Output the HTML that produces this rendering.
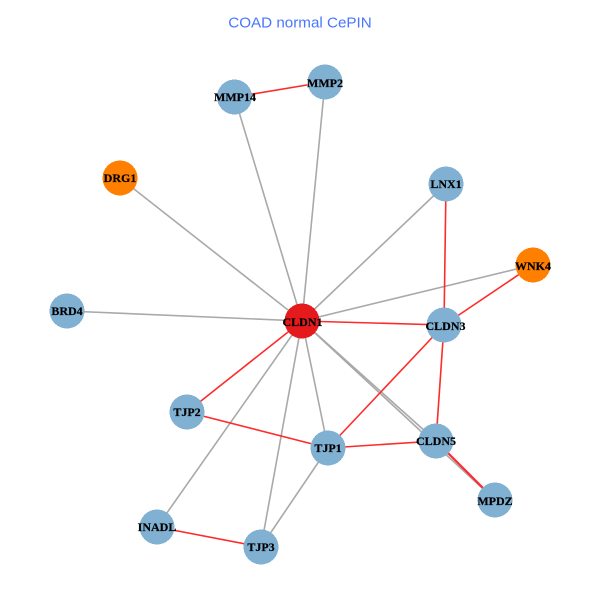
<!DOCTYPE html>
<html>
<head>
<meta charset="utf-8">
<style>
html,body{margin:0;padding:0;background:#fff}
svg{display:block}
.g line{stroke:#a9a9a9;stroke-width:1.6}
.r line{stroke:#ff2a2a;stroke-width:1.6}
.n circle{fill:#80b1d3;shape-rendering:crispEdges}
.l text{font-family:"Liberation Serif",serif;font-weight:bold;font-size:12px;fill:#000;stroke:#000;stroke-width:.2;text-anchor:middle}
</style>
</head>
<body>
<svg width="600" height="600" viewBox="0 0 600 600" xmlns="http://www.w3.org/2000/svg">
<rect width="600" height="600" fill="#fff"/>
<text x="300" y="27.5" text-anchor="middle" font-family="Liberation Sans, sans-serif" font-size="15.2" fill="#4876ff">COAD normal CePIN</text>
<g class="g">
<line x1="302" y1="321" x2="234.5" y2="97"/>
<line x1="302" y1="321" x2="325" y2="82"/>
<line x1="302" y1="321" x2="120" y2="178"/>
<line x1="302" y1="321" x2="446" y2="184"/>
<line x1="302" y1="321" x2="533" y2="265"/>
<line x1="302" y1="321" x2="67" y2="311"/>
<line x1="302" y1="321" x2="436" y2="441"/>
<line x1="302" y1="321" x2="495" y2="500"/>
<line x1="302" y1="321" x2="328" y2="448"/>
<line x1="302" y1="321" x2="261" y2="547"/>
<line x1="302" y1="321" x2="157" y2="527"/>
<line x1="328" y1="448" x2="261" y2="547"/>
</g>
<g class="r">
<line x1="234.5" y1="97" x2="325" y2="82"/>
<line x1="446" y1="184" x2="444" y2="325"/>
<line x1="533" y1="265" x2="444" y2="325"/>
<line x1="302" y1="321" x2="444" y2="325"/>
<line x1="302" y1="321" x2="187" y2="412"/>
<line x1="187" y1="412" x2="328" y2="448"/>
<line x1="328" y1="448" x2="444" y2="325"/>
<line x1="328" y1="448" x2="436" y2="441"/>
<line x1="444" y1="325" x2="436" y2="441"/>
<line x1="436" y1="441" x2="495" y2="500" style="stroke-width:2.2"/>
<line x1="157" y1="527" x2="261" y2="547"/>
</g>
<g class="n">
<circle cx="234.5" cy="97" r="17.5"/>
<circle cx="325" cy="82" r="17.5"/>
<circle cx="120" cy="178" r="17.5" style="fill:#ff7f00"/>
<circle cx="446" cy="184" r="17.5"/>
<circle cx="533" cy="265" r="17.5" style="fill:#ff7f00"/>
<circle cx="67" cy="311" r="17.5"/>
<circle cx="302" cy="321" r="17.5" style="fill:#e41a1c"/>
<circle cx="444" cy="325" r="17.5"/>
<circle cx="187" cy="412" r="17.5"/>
<circle cx="328" cy="448" r="17.5"/>
<circle cx="436" cy="441" r="17.5"/>
<circle cx="495" cy="500" r="17.5"/>
<circle cx="157" cy="527" r="17.5"/>
<circle cx="261" cy="547" r="17.5"/>
</g>
<g class="l">
<text x="235" y="101">MMP14</text>
<text x="325" y="87">MMP2</text>
<text x="120" y="182">DRG1</text>
<text x="446" y="188">LNX1</text>
<text x="533" y="270">WNK4</text>
<text x="67" y="315">BRD4</text>
<text x="302.5" y="326">CLDN1</text>
<text x="445.5" y="330">CLDN3</text>
<text x="187" y="416">TJP2</text>
<text x="328" y="452">TJP1</text>
<text x="436" y="445">CLDN5</text>
<text x="495" y="505">MPDZ</text>
<text x="157" y="531">INADL</text>
<text x="261" y="551">TJP3</text>
</g>
</svg>
</body>
</html>
